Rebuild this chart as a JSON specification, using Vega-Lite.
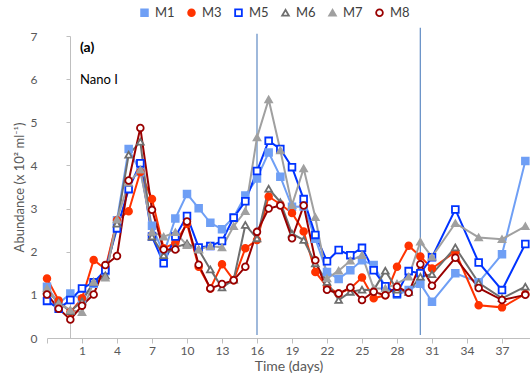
{
  "$schema": "https://vega.github.io/schema/vega-lite/v6.json",
  "width": 483,
  "height": 302,
  "autosize": {"type": "none"},
  "padding": {"left": 47, "top": 36, "right": 0, "bottom": 37},
  "config": {
    "view": {"stroke": null},
    "font": "Lato",
    "axis": {"grid": false, "domainColor": "#bfbfbf", "tickColor": "#bfbfbf", "labelColor": "#595959", "titleColor": "#595959", "titleFontWeight": "normal"}
  },
  "datasets": {
    "wide": [
      {"d": -2, "M1": 1.19, "M3": 1.38, "M5": 0.86, "M6": 1.1, "M7": 1.15, "M8": 1.01},
      {"d": -1, "M1": 0.8, "M3": 0.87, "M5": 0.68, "M6": 0.82, "M7": 0.8, "M8": 0.68},
      {"d": 0, "M1": 1.03, "M3": 0.6, "M5": 0.88, "M6": 0.62, "M7": 0.65, "M8": 0.43},
      {"d": 1, "M1": 0.9, "M3": 0.92, "M5": 1.15, "M6": 0.85, "M7": 0.6, "M8": 0.75},
      {"d": 2, "M1": 1.26, "M3": 1.81, "M5": 1.29, "M6": 1.3, "M7": 1.3, "M8": 1.01},
      {"d": 3, "M1": 1.55, "M3": 1.6, "M5": 1.57, "M6": 1.45, "M7": 1.4, "M8": 1.69},
      {"d": 4, "M1": 2.73, "M3": 2.73, "M5": 2.54, "M6": 2.65, "M7": 2.75, "M8": 1.9},
      {"d": 5, "M1": 4.38, "M3": 2.94, "M5": 3.45, "M6": 4.25, "M7": 3.6, "M8": 3.65},
      {"d": 6, "M1": 3.85, "M3": 3.85, "M5": 4.05, "M6": 4.55, "M7": 3.9, "M8": 4.87},
      {"d": 7, "M1": 2.6, "M3": 3.22, "M5": 2.35, "M6": 2.35, "M7": 2.46, "M8": 2.97},
      {"d": 8, "M1": 1.95, "M3": 2.08, "M5": 1.73, "M6": 1.92, "M7": 2.35, "M8": 2.05},
      {"d": 9, "M1": 2.77, "M3": 2.2, "M5": 2.35, "M6": 2.1, "M7": 2.45, "M8": 2.05},
      {"d": 10, "M1": 3.34, "M3": 2.65, "M5": 2.83, "M6": 2.19, "M7": 2.15, "M8": 2.7},
      {"d": 11, "M1": 3.01, "M3": 1.65, "M5": 2.1, "M6": 2.05, "M7": 2.05, "M8": 1.7},
      {"d": 12, "M1": 2.67, "M3": 1.15, "M5": 2.13, "M6": 1.59, "M7": 2.13, "M8": 1.15},
      {"d": 13, "M1": 2.52, "M3": 1.71, "M5": 2.25, "M6": 1.17, "M7": 2.1, "M8": 1.25},
      {"d": 14, "M1": 2.8, "M3": 1.34, "M5": 2.79, "M6": 1.35, "M7": 2.59, "M8": 1.34},
      {"d": 15, "M1": 3.3, "M3": 2.08, "M5": 3.17, "M6": 2.62, "M7": 2.94, "M8": 1.65},
      {"d": 16, "M1": 3.7, "M3": 2.27, "M5": 3.87, "M6": 2.31, "M7": 4.65, "M8": 2.46},
      {"d": 17, "M1": 4.3, "M3": 3.28, "M5": 4.57, "M6": 3.46, "M7": 5.53, "M8": 3.0},
      {"d": 18, "M1": 3.74, "M3": 3.1, "M5": 4.38, "M6": 3.15, "M7": 4.35, "M8": 3.07},
      {"d": 19, "M1": 3.04, "M3": 2.9, "M5": 3.96, "M6": 2.42, "M7": 3.08, "M8": 2.31},
      {"d": 20, "M1": 3.05, "M3": 2.47, "M5": 3.22, "M6": 2.27, "M7": 3.93, "M8": 3.07},
      {"d": 21, "M1": 2.3, "M3": 1.53, "M5": 2.39, "M6": 1.73, "M7": 2.8, "M8": 1.8},
      {"d": 22, "M1": 1.53, "M3": 1.19, "M5": 1.78, "M6": 1.3, "M7": 1.38, "M8": 1.12},
      {"d": 23, "M1": 1.37, "M3": 1.03, "M5": 2.04, "M6": 0.88, "M7": 1.56, "M8": 1.03},
      {"d": 24, "M1": 1.57, "M3": 1.15, "M5": 1.92, "M6": 1.07, "M7": 1.79, "M8": 1.17},
      {"d": 25, "M1": 1.8, "M3": 1.4, "M5": 2.09, "M6": 1.12, "M7": 1.92, "M8": 0.88},
      {"d": 26, "M1": 1.69, "M3": 0.92, "M5": 1.57, "M6": 1.11, "M7": 1.15, "M8": 1.07},
      {"d": 27, "M1": 1.19, "M3": 0.99, "M5": 1.2, "M6": 1.56, "M7": 1.15, "M8": 0.99},
      {"d": 28, "M1": 1.0, "M3": 1.65, "M5": 1.03, "M6": 1.12, "M7": 1.26, "M8": 1.19},
      {"d": 29, "M1": 1.11, "M3": 2.14, "M5": 1.55, "M6": 1.07, "M7": 1.42, "M8": 1.05},
      {"d": 30, "M1": 1.26, "M3": 1.89, "M5": 1.5, "M6": 1.42, "M7": 2.23, "M8": 1.71},
      {"d": 31, "M1": 0.84, "M3": 1.61, "M5": 1.87, "M6": 1.48, "M7": 1.88, "M8": 1.21},
      {"d": 33, "M1": 1.5, "M3": 2.0, "M5": 2.98, "M6": 2.1, "M7": 2.66, "M8": 1.86},
      {"d": 35, "M1": 1.29, "M3": 0.76, "M5": 1.75, "M6": 1.28, "M7": 2.33, "M8": 1.16},
      {"d": 37, "M1": 1.94, "M3": 0.71, "M5": 1.11, "M6": 0.92, "M7": 2.29, "M8": 0.88},
      {"d": 39, "M1": 4.1, "M3": 1.02, "M5": 2.18, "M6": 1.19, "M7": 2.59, "M8": 1.0}
    ],
    "markers": [
      {"d": 16, "v": 0.07, "v2": 7.05},
      {"d": 30, "v": 0.07, "v2": 7.19}
    ],
    "notes": [
      {"d": 0.83, "v": 6.72, "t": "(a)"},
      {"d": 0.83, "v": 5.98, "t": "Nano I"}
    ]
  },
  "encoding": {
    "x": {"field": "d", "type": "quantitative", "title": "Time (days)", "scale": {"domain": [-2, 39.4], "nice": false, "zero": false},
          "axis": {"values": [-2, 1, 4, 7, 10, 13, 16, 19, 22, 25, 28, 31, 34, 37], "labelExpr": "datum.value < 0 ? '' : datum.label", "labelOverlap": false, "tickSize": 5, "labelFontSize": 12, "labelPadding": 2, "titleFontSize": 14, "titlePadding": 3}},
    "y": {"field": "v", "type": "quantitative", "title": "Abundance (x 10² ml⁻¹)", "scale": {"domain": [0, 7], "nice": false},
          "axis": {"values": [0, 1, 2, 3, 4, 5, 6, 7], "offset": -23, "tickSize": 4, "labelPadding": 29, "labelFontSize": 12, "titleFontSize": 13, "titlePadding": 4}}
  },
  "layer": [
    {
      "data": {"name": "markers"},
      "mark": {"type": "rule", "color": "#6b93c8", "strokeWidth": 1.3},
      "encoding": {"y2": {"field": "v2"}}
    },
    {
      "data": {"name": "wide"},
      "transform": [{"fold": ["M1", "M3", "M5", "M6", "M7", "M8"], "as": ["series", "v"]}],
      "mark": {"type": "line", "strokeWidth": 2},
      "encoding": {
        "stroke": {"field": "series", "type": "nominal",
                   "scale": {"domain": ["M1", "M3", "M5", "M6", "M7", "M8"], "range": ["#6f9ff5", "#ff3300", "#0033ff", "#6e6e6e", "#a0a0a0", "#990000"]},
                   "legend": {"title": null, "orient": "none", "legendX": 91, "legendY": -30, "direction": "horizontal", "labelFontSize": 13, "labelColor": "#404040", "symbolSize": 45, "symbolStrokeWidth": 1.8, "columnPadding": 9, "labelOffset": 4}}
      }
    },
    {
      "data": {"name": "wide"},
      "transform": [{"fold": ["M1", "M3", "M5", "M6", "M7", "M8"], "as": ["series", "v"]}],
      "mark": {"type": "point", "filled": true, "size": 45, "strokeWidth": 1.8, "opacity": 1},
      "encoding": {
        "stroke": {"field": "series", "type": "nominal"},
        "fill": {"field": "series", "type": "nominal",
                 "scale": {"domain": ["M1", "M3", "M5", "M6", "M7", "M8"], "range": ["#6f9ff5", "#ff3300", "#ffffff", "#ffffff", "#a0a0a0", "#ffffff"]},
                 "legend": {"title": null}},
        "shape": {"field": "series", "type": "nominal",
                  "scale": {"domain": ["M1", "M3", "M5", "M6", "M7", "M8"], "range": ["square", "circle", "square", "triangle-up", "triangle-up", "circle"]},
                  "legend": {"title": null}}
      }
    },
    {
      "data": {"name": "notes"},
      "transform": [{"filter": "datum.t == '(a)'"}],
      "mark": {"type": "text", "align": "left", "baseline": "middle", "fontSize": 14, "fontWeight": "bold", "color": "#000000"},
      "encoding": {"text": {"field": "t"}}
    },
    {
      "data": {"name": "notes"},
      "transform": [{"filter": "datum.t == 'Nano I'"}],
      "mark": {"type": "text", "align": "left", "baseline": "middle", "fontSize": 13, "color": "#000000"},
      "encoding": {"text": {"field": "t"}}
    }
  ]
}
